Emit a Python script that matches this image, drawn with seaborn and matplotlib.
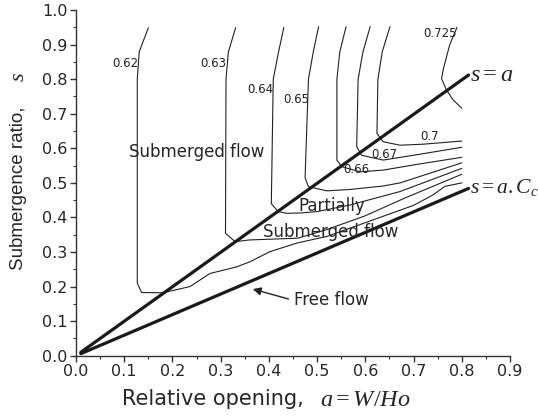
import numpy as np
import pandas as pd
import seaborn as sns
import matplotlib.pyplot as plt


# ---------------------------
# Data (contour lines of Cc)
# ---------------------------

levels = ["0.62", "0.63", "0.64", "0.65", "0.66", "0.67", "0.7", "0.725"]

a_062 = [0.150, 0.131, 0.127, 0.127, 0.136, 0.180, 0.236, 0.278, 0.333, 0.361, 0.402, 0.458, 0.520, 0.600, 0.700, 0.740, 0.765, 0.800]
s_062 = [0.949, 0.879, 0.800, 0.210, 0.183, 0.182, 0.200, 0.238, 0.257, 0.272, 0.301, 0.326, 0.345, 0.385, 0.435, 0.465, 0.490, 0.500]

a_063 = [0.331, 0.316, 0.311, 0.310, 0.330, 0.360, 0.400, 0.460, 0.520, 0.600, 0.680, 0.800]
s_063 = [0.949, 0.879, 0.800, 0.354, 0.330, 0.335, 0.337, 0.340, 0.365, 0.405, 0.455, 0.525]

a_064 = [0.431, 0.420, 0.409, 0.405, 0.419, 0.437, 0.465, 0.500, 0.568, 0.672, 0.800]
s_064 = [0.950, 0.879, 0.800, 0.440, 0.417, 0.412, 0.413, 0.417, 0.436, 0.475, 0.542]

a_065 = [0.503, 0.492, 0.482, 0.475, 0.482, 0.520, 0.568, 0.637, 0.672, 0.800]
s_065 = [0.952, 0.879, 0.800, 0.515, 0.489, 0.477, 0.481, 0.491, 0.500, 0.558]

a_066 = [0.560, 0.547, 0.541, 0.541, 0.551, 0.589, 0.637, 0.700, 0.800]
s_066 = [0.952, 0.879, 0.800, 0.566, 0.547, 0.532, 0.537, 0.552, 0.574]

a_067 = [0.610, 0.595, 0.585, 0.582, 0.592, 0.637, 0.700, 0.800]
s_067 = [0.952, 0.879, 0.800, 0.605, 0.580, 0.566, 0.580, 0.603]

a_070 = [0.651, 0.635, 0.626, 0.624, 0.637, 0.672, 0.720, 0.800]
s_070 = [0.952, 0.879, 0.800, 0.643, 0.619, 0.609, 0.612, 0.621]

a_0725 = [0.790, 0.775, 0.762, 0.758, 0.768, 0.782, 0.800]
s_0725 = [0.950, 0.900, 0.831, 0.802, 0.769, 0.740, 0.716]

contour_a = [a_062, a_063, a_064, a_065, a_066, a_067, a_070, a_0725]
contour_s = [s_062, s_063, s_064, s_065, s_066, s_067, s_070, s_0725]

# contour label positions
label_a = [0.103, 0.285, 0.382, 0.456, 0.582, 0.639, 0.734, 0.755]
label_s = [0.846, 0.844, 0.769, 0.742, 0.539, 0.581, 0.634, 0.933]

# boundary lines s = a and s = a.Cc
bound_a = [0.010, 0.814]
bound_s_equal = [0.010, 0.812]
bound_s_cc = [0.006, 0.484]


# ---------------------------
# Plot style
# ---------------------------

sns.set_theme(style="ticks")
plt.rcParams["font.family"] = ["DejaVu Sans"]
plt.rcParams["mathtext.fontset"] = "custom"
plt.rcParams["mathtext.it"] = "Liberation Serif:italic"
plt.rcParams["mathtext.rm"] = "Liberation Serif"


# ---------------------------
# Build long-form tables
# ---------------------------

contour_df = pd.concat(
    [
        pd.DataFrame({"a": xa, "s": ys, "level": lev})
        for lev, xa, ys in zip(levels, contour_a, contour_s)
    ],
    ignore_index=True
)

bound_df = pd.concat(
    [
        pd.DataFrame({"a": bound_a, "s": bound_s_equal, "line": "s=a"}),
        pd.DataFrame({"a": bound_a, "s": bound_s_cc, "line": "s=a.Cc"}),
    ],
    ignore_index=True
)


# ---------------------------
# Create figure
# ---------------------------

fig = plt.figure(figsize=(5.38, 4.19), dpi=100)
ax = fig.add_axes([0.1413, 0.151, 0.8067, 0.825])

sns.lineplot(
    data=contour_df, x="a", y="s", units="level", estimator=None,
    sort=False, color="#222222", linewidth=0.8, ax=ax, legend=False
)

sns.lineplot(
    data=bound_df, x="a", y="s", units="line", estimator=None,
    sort=False, color="#1a1a1a", linewidth=2.3, ax=ax, legend=False
)

# contour labels
for lab, xa, ys in zip(levels, label_a, label_s):
    ax.text(xa, ys, lab, fontsize=8.5, ha="center", va="center",
            color="#222222")

# region annotations
ax.text(0.251, 0.589, "Submerged flow", fontsize=12, ha="center", va="center")
ax.text(0.530, 0.433, "Partially", fontsize=12, ha="center", va="center")
ax.text(0.529, 0.359, "Submerged flow", fontsize=12, ha="center", va="center")
ax.text(0.530, 0.161, "Free flow", fontsize=12, ha="center", va="center")

ax.annotate(
    "", xy=(0.361, 0.195), xytext=(0.446, 0.162),
    arrowprops=dict(arrowstyle="-|>", color="#222222", lw=1.0,
                    mutation_scale=12)
)

ax.text(0.818, 0.815, r"$s=a$", fontsize=17.5, ha="left", va="center")
ax.text(0.818, 0.487, r"$s=a.C_c$", fontsize=15.5, ha="left", va="center")


# ---------------------------
# Axes
# ---------------------------

ax.set_xlim(0, 0.9)
ax.set_ylim(0, 1.0)
ax.set_xticks(np.arange(0, 0.91, 0.1))
ax.set_yticks(np.arange(0, 1.01, 0.1))
ax.set_xticks(np.arange(0.05, 0.9, 0.1), minor=True)
ax.set_yticks(np.arange(0.05, 1.0, 0.1), minor=True)
ax.xaxis.set_major_formatter(plt.FuncFormatter(lambda v, _: f"{v:.1f}"))
ax.yaxis.set_major_formatter(plt.FuncFormatter(lambda v, _: f"{v:.1f}"))

# seaborn names the axes after the columns; the labels are drawn below
ax.set_xlabel("")
ax.set_ylabel("")

# axis labels: sans text + serif italic symbol
fig.text(0.2262, 0.047, "Relative opening,", fontsize=15,
         ha="left", va="center")
fig.text(0.594, 0.047, r"$a=W/Ho$", fontsize=17.5, ha="left", va="center")
fig.text(0.034, 0.550, "Submergence ratio,", fontsize=13.5, rotation=90,
         ha="center", va="center", family="Liberation Sans")
fig.text(0.034, 0.817, r"$s$", fontsize=16, rotation=90,
         ha="center", va="center")

for loc, spine in ax.spines.items():
    if loc in ["left", "bottom"]:
        spine.set_color("#333333")
        spine.set_linewidth(1.0)
    else:
        spine.set_visible(False)

ax.tick_params(axis="both", which="major", direction="out", length=4,
               width=1.0, color="#333333", labelsize=11.5, pad=2)
ax.tick_params(axis="both", which="minor", direction="out", length=2.5,
               width=0.8, color="#333333")

fig.savefig("out.png", dpi=100, facecolor="white")
